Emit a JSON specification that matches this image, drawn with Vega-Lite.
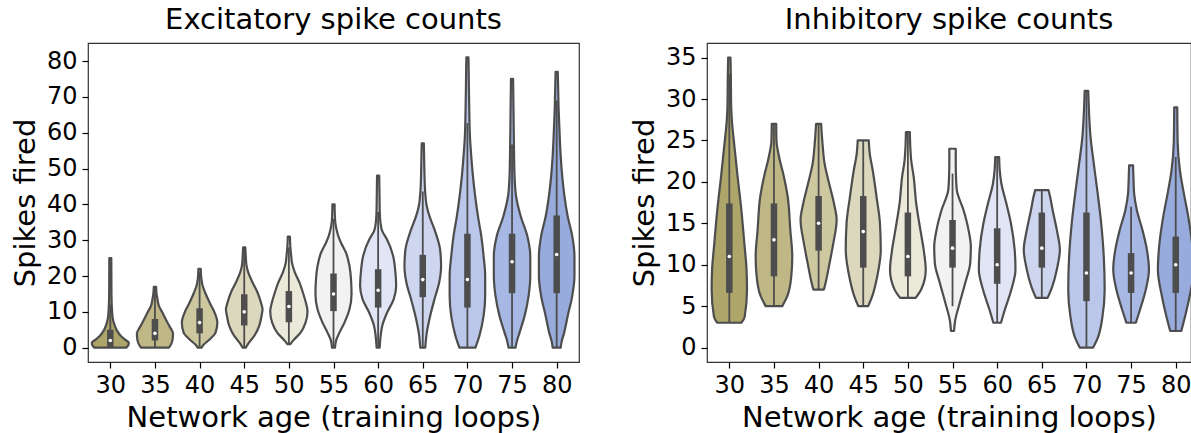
{
"$schema": "https://vega.github.io/schema/vega-lite/v6.json",
"padding": {"left": 10, "top": 5, "right": 0, "bottom": 0},
"background": "white",
"bounds": "flush",
"spacing": 128,
"config": {
  "font": "DejaVu Sans",
  "view": {"stroke": "#333333", "strokeWidth": 1.2},
  "axis": {"labelFont": "DejaVu Sans", "labelFontSize": 24, "labelColor": "#000000", "labelOverlap": false, "titleFont": "DejaVu Sans", "titleFontSize": 29, "titleFontWeight": "normal", "titleColor": "#000000", "tickColor": "#000000", "tickSize": 6, "tickWidth": 1.2, "grid": false, "domain": false, "labelPadding": 5, "titlePadding": 6},
  "title": {"font": "DejaVu Sans", "fontSize": 29, "fontWeight": "normal", "color": "#000000", "offset": 8}
},
"datasets": {
"exV": [
{"age":30,"s":0,"w":1.79},{"age":30,"s":0.7,"w":2.02},{"age":30,"s":1.4,"w":2.07},{"age":30,"s":2.2,"w":1.68},{"age":30,"s":3.2,"w":1.21},{"age":30,"s":4.6,"w":0.78},{"age":30,"s":6.5,"w":0.45},{"age":30,"s":8.4,"w":0.26},{"age":30,"s":11,"w":0.18},{"age":30,"s":15,"w":0.13},{"age":30,"s":25,"w":0.11},
{"age":35,"s":0,"w":1.57},{"age":35,"s":1.2,"w":1.85},{"age":35,"s":2.5,"w":1.99},{"age":35,"s":4,"w":2.02},{"age":35,"s":5.5,"w":1.74},{"age":35,"s":7,"w":1.4},{"age":35,"s":8.4,"w":1.12},{"age":35,"s":9.8,"w":0.84},{"age":35,"s":11.6,"w":0.45},{"age":35,"s":13.5,"w":0.28},{"age":35,"s":15,"w":0.18},{"age":35,"s":17,"w":0.13},
{"age":40,"s":0,"w":0.22},{"age":40,"s":0.5,"w":0.34},{"age":40,"s":2.3,"w":1.12},{"age":40,"s":4.2,"w":1.79},{"age":40,"s":7,"w":1.99},{"age":40,"s":9.8,"w":1.68},{"age":40,"s":12.6,"w":1.12},{"age":40,"s":15.4,"w":0.62},{"age":40,"s":17.3,"w":0.34},{"age":40,"s":19.2,"w":0.2},{"age":40,"s":22,"w":0.13},
{"age":45,"s":0,"w":0.17},{"age":45,"s":1.4,"w":0.53},{"age":45,"s":3.3,"w":1.12},{"age":45,"s":6.1,"w":1.68},{"age":45,"s":8.9,"w":1.94},{"age":45,"s":10.7,"w":2.05},{"age":45,"s":12.6,"w":1.87},{"age":45,"s":15.4,"w":1.49},{"age":45,"s":18.2,"w":0.93},{"age":45,"s":21,"w":0.45},{"age":45,"s":22.9,"w":0.26},{"age":45,"s":25.7,"w":0.17},{"age":45,"s":28,"w":0.12},
{"age":50,"s":1,"w":0.17},{"age":50,"s":1.9,"w":0.45},{"age":50,"s":4.2,"w":1.31},{"age":50,"s":7,"w":1.87},{"age":50,"s":10.2,"w":2.09},{"age":50,"s":12.6,"w":1.9},{"age":50,"s":15.4,"w":1.57},{"age":50,"s":18.2,"w":1.18},{"age":50,"s":21,"w":0.67},{"age":50,"s":23.8,"w":0.34},{"age":50,"s":25.7,"w":0.26},{"age":50,"s":28,"w":0.17},{"age":50,"s":31,"w":0.12},
{"age":55,"s":0,"w":0.17},{"age":55,"s":1.9,"w":0.28},{"age":55,"s":4.2,"w":0.67},{"age":55,"s":7,"w":1.23},{"age":55,"s":10.7,"w":1.79},{"age":55,"s":14.9,"w":2.02},{"age":55,"s":19.1,"w":1.96},{"age":55,"s":22.8,"w":1.79},{"age":55,"s":26.5,"w":1.4},{"age":55,"s":29.3,"w":0.84},{"age":55,"s":31,"w":0.56},{"age":55,"s":33,"w":0.34},{"age":55,"s":35,"w":0.2},{"age":55,"s":37,"w":0.15},{"age":55,"s":40,"w":0.12},
{"age":60,"s":0,"w":0.17},{"age":60,"s":3.3,"w":0.28},{"age":60,"s":6,"w":0.45},{"age":60,"s":9.8,"w":1.01},{"age":60,"s":13.5,"w":1.74},{"age":60,"s":17.2,"w":2.02},{"age":60,"s":21.9,"w":1.9},{"age":60,"s":25.6,"w":1.68},{"age":60,"s":30.3,"w":0.97},{"age":60,"s":32.6,"w":0.45},{"age":60,"s":34.9,"w":0.26},{"age":60,"s":38,"w":0.18},{"age":60,"s":43,"w":0.15},{"age":60,"s":48,"w":0.12},
{"age":65,"s":0,"w":0.28},{"age":65,"s":4.2,"w":0.45},{"age":65,"s":8.8,"w":0.82},{"age":65,"s":13.5,"w":1.31},{"age":65,"s":18.1,"w":1.83},{"age":65,"s":22.8,"w":2.05},{"age":65,"s":27.4,"w":1.94},{"age":65,"s":33,"w":1.31},{"age":65,"s":36.7,"w":0.75},{"age":65,"s":39.5,"w":0.45},{"age":65,"s":44.2,"w":0.25},{"age":65,"s":50.7,"w":0.17},{"age":65,"s":57,"w":0.12},
{"age":70,"s":0,"w":0.9},{"age":70,"s":3.3,"w":1.34},{"age":70,"s":8.8,"w":1.81},{"age":70,"s":14.4,"w":1.99},{"age":70,"s":20,"w":1.99},{"age":70,"s":25.6,"w":1.81},{"age":70,"s":31.2,"w":1.55},{"age":70,"s":36.7,"w":1.18},{"age":70,"s":42.3,"w":0.87},{"age":70,"s":47.9,"w":0.62},{"age":70,"s":53.5,"w":0.43},{"age":70,"s":59.1,"w":0.28},{"age":70,"s":64.6,"w":0.22},{"age":70,"s":72,"w":0.17},{"age":70,"s":81,"w":0.12},
{"age":75,"s":0,"w":0.39},{"age":75,"s":1.4,"w":0.5},{"age":75,"s":4.2,"w":0.84},{"age":75,"s":8.8,"w":1.4},{"age":75,"s":14.4,"w":1.85},{"age":75,"s":20,"w":2.04},{"age":75,"s":25.6,"w":2.04},{"age":75,"s":31.2,"w":1.71},{"age":75,"s":36.7,"w":0.97},{"age":75,"s":42.3,"w":0.45},{"age":75,"s":47.9,"w":0.28},{"age":75,"s":55,"w":0.22},{"age":75,"s":65,"w":0.17},{"age":75,"s":75,"w":0.12},
{"age":80,"s":0,"w":0.45},{"age":80,"s":1.4,"w":0.53},{"age":80,"s":4.2,"w":0.84},{"age":80,"s":8.8,"w":1.23},{"age":80,"s":14.4,"w":1.74},{"age":80,"s":20,"w":1.99},{"age":80,"s":25.6,"w":1.99},{"age":80,"s":31.2,"w":1.74},{"age":80,"s":36.7,"w":1.23},{"age":80,"s":42.3,"w":0.87},{"age":80,"s":47.9,"w":0.62},{"age":80,"s":53.5,"w":0.45},{"age":80,"s":59.1,"w":0.34},{"age":80,"s":62.8,"w":0.28},{"age":80,"s":66.5,"w":0.22},{"age":80,"s":72,"w":0.17},{"age":80,"s":77,"w":0.12}
],
"exB": [
{"age":30,"q1":0,"q3":5,"med":2,"wlo":0,"whi":12},
{"age":35,"q1":2,"q3":8,"med":4,"wlo":0,"whi":17},
{"age":40,"q1":4,"q3":11,"med":7,"wlo":0,"whi":21},
{"age":45,"q1":6.2,"q3":14.9,"med":10,"wlo":0,"whi":28},
{"age":50,"q1":7.1,"q3":15.8,"med":11.5,"wlo":1,"whi":28},
{"age":55,"q1":10.2,"q3":20.7,"med":15,"wlo":0,"whi":36},
{"age":60,"q1":11.2,"q3":21.9,"med":16,"wlo":0,"whi":37.9},
{"age":65,"q1":14.1,"q3":25.9,"med":19,"wlo":0,"whi":43.6},
{"age":70,"q1":11.2,"q3":31.8,"med":19,"wlo":0,"whi":62.7},
{"age":75,"q1":15.2,"q3":31.8,"med":24,"wlo":0,"whi":56.7},
{"age":80,"q1":15.2,"q3":36.9,"med":26,"wlo":0,"whi":69}
],
"inV": [
{"age":30,"s":3,"w":1.35},{"age":30,"s":3.7,"w":1.72},{"age":30,"s":7,"w":1.98},{"age":30,"s":9.4,"w":1.93},{"age":30,"s":12.6,"w":1.68},{"age":30,"s":16.6,"w":1.35},{"age":30,"s":20.6,"w":0.93},{"age":30,"s":24.7,"w":0.53},{"age":30,"s":27.5,"w":0.28},{"age":30,"s":29.5,"w":0.2},{"age":30,"s":32.8,"w":0.17},{"age":30,"s":35,"w":0.13},
{"age":35,"s":5,"w":0.93},{"age":35,"s":6.2,"w":1.49},{"age":35,"s":8.6,"w":1.94},{"age":35,"s":11,"w":2.05},{"age":35,"s":14.2,"w":1.83},{"age":35,"s":18.2,"w":1.54},{"age":35,"s":20.6,"w":1.12},{"age":35,"s":23.1,"w":0.56},{"age":35,"s":25,"w":0.28},{"age":35,"s":27,"w":0.25},
{"age":40,"s":7,"w":0.59},{"age":40,"s":7.8,"w":0.78},{"age":40,"s":10.2,"w":1.23},{"age":40,"s":12.6,"w":1.65},{"age":40,"s":15.4,"w":2.02},{"age":40,"s":17.4,"w":1.72},{"age":40,"s":19.8,"w":1.18},{"age":40,"s":22.2,"w":0.67},{"age":40,"s":24.7,"w":0.43},{"age":40,"s":27,"w":0.28},
{"age":45,"s":5,"w":0.56},{"age":45,"s":6.2,"w":1.01},{"age":45,"s":8.6,"w":1.57},{"age":45,"s":11.8,"w":1.96},{"age":45,"s":15,"w":1.87},{"age":45,"s":18.2,"w":1.49},{"age":45,"s":21.4,"w":1.06},{"age":45,"s":23.4,"w":0.73},{"age":45,"s":25,"w":0.62},
{"age":50,"s":6,"w":0.87},{"age":50,"s":7,"w":1.49},{"age":50,"s":9.4,"w":2.0},{"age":50,"s":11.8,"w":1.77},{"age":50,"s":14.2,"w":1.4},{"age":50,"s":17.4,"w":0.93},{"age":50,"s":20.6,"w":0.65},{"age":50,"s":22.6,"w":0.37},{"age":50,"s":24,"w":0.28},{"age":50,"s":26,"w":0.22},
{"age":55,"s":2,"w":0.17},{"age":55,"s":3.3,"w":0.3},{"age":55,"s":5.3,"w":0.78},{"age":55,"s":7.8,"w":1.42},{"age":55,"s":10.2,"w":1.98},{"age":55,"s":12.2,"w":2.05},{"age":55,"s":14.2,"w":1.79},{"age":55,"s":16.6,"w":1.23},{"age":55,"s":19,"w":0.48},{"age":55,"s":20.6,"w":0.39},{"age":55,"s":22,"w":0.36},{"age":55,"s":24,"w":0.36},
{"age":60,"s":3,"w":0.43},{"age":60,"s":4.5,"w":0.84},{"age":60,"s":7,"w":1.59},{"age":60,"s":9.4,"w":2.05},{"age":60,"s":11.8,"w":1.96},{"age":60,"s":15,"w":1.54},{"age":60,"s":17.4,"w":1.03},{"age":60,"s":19.8,"w":0.47},{"age":60,"s":21.5,"w":0.28},{"age":60,"s":23,"w":0.22},
{"age":65,"s":6,"w":0.65},{"age":65,"s":7.4,"w":1.18},{"age":65,"s":9.4,"w":1.68},{"age":65,"s":11.8,"w":2.02},{"age":65,"s":14.2,"w":1.68},{"age":65,"s":16.6,"w":1.21},{"age":65,"s":18.2,"w":0.93},{"age":65,"s":19,"w":0.75},
{"age":70,"s":0,"w":0.75},{"age":70,"s":1.3,"w":1.31},{"age":70,"s":3.7,"w":1.79},{"age":70,"s":7,"w":2.04},{"age":70,"s":11,"w":1.94},{"age":70,"s":15,"w":1.65},{"age":70,"s":19,"w":1.21},{"age":70,"s":22.2,"w":0.82},{"age":70,"s":25.5,"w":0.45},{"age":70,"s":27.9,"w":0.31},{"age":70,"s":31,"w":0.2},
{"age":75,"s":3,"w":0.53},{"age":75,"s":4.5,"w":0.98},{"age":75,"s":7,"w":1.65},{"age":75,"s":9.4,"w":2.0},{"age":75,"s":11.8,"w":1.77},{"age":75,"s":14.2,"w":1.27},{"age":75,"s":16.6,"w":0.64},{"age":75,"s":18.6,"w":0.34},{"age":75,"s":20,"w":0.28},{"age":75,"s":22,"w":0.22},
{"age":80,"s":2,"w":0.62},{"age":80,"s":3.7,"w":1.03},{"age":80,"s":6.2,"w":1.55},{"age":80,"s":9.4,"w":2.0},{"age":80,"s":12.6,"w":1.82},{"age":80,"s":15.8,"w":1.4},{"age":80,"s":19,"w":0.84},{"age":80,"s":21.4,"w":0.47},{"age":80,"s":24.7,"w":0.22},{"age":80,"s":29,"w":0.17}
],
"inB": [
{"age":30,"q1":6.6,"q3":17.4,"med":11,"wlo":3,"whi":33},
{"age":35,"q1":8.6,"q3":17.4,"med":13,"wlo":5,"whi":27},
{"age":40,"q1":11.7,"q3":18.3,"med":15,"wlo":7,"whi":27},
{"age":45,"q1":9.65,"q3":18.3,"med":14,"wlo":5,"whi":25},
{"age":50,"q1":8.6,"q3":16.3,"med":11,"wlo":6,"whi":26},
{"age":55,"q1":9.65,"q3":15.4,"med":12,"wlo":5,"whi":21},
{"age":60,"q1":7.7,"q3":14.4,"med":10,"wlo":3,"whi":23},
{"age":65,"q1":9.65,"q3":16.3,"med":12,"wlo":6,"whi":19},
{"age":70,"q1":5.6,"q3":16.3,"med":9,"wlo":0,"whi":31},
{"age":75,"q1":6.6,"q3":11.4,"med":9,"wlo":3,"whi":17},
{"age":80,"q1":6.6,"q3":13.4,"med":10,"wlo":2,"whi":23}
]
},
"hconcat": [
{
  "width": 491, "height": 319,
  "title": {"text": "Excitatory spike counts"},
  "layer": [
    {"data": {"name": "exV"},
     "transform": [{"calculate": "datum.age - datum.w", "as": "lo"}, {"calculate": "datum.age + datum.w", "as": "hi"}],
     "mark": {"type": "area", "orient": "horizontal", "interpolate": "monotone", "stroke": "#4d4d4d", "strokeWidth": 2.2, "strokeJoin": "round", "fillOpacity": 1},
     "encoding": {
       "y": {"field": "s", "type": "quantitative", "scale": {"domain": [-4.0, 85.04], "nice": false, "zero": false}, "axis": {"values": [0,10,20,30,40,50,60,70,80], "title": "Spikes fired"}},
       "x": {"field": "lo", "type": "quantitative", "scale": {"domain": [27.5, 82.5], "nice": false, "zero": false}, "axis": {"values": [30,35,40,45,50,55,60,65,70,75,80], "title": "Network age (training loops)"}},
       "x2": {"field": "hi"},
       "color": {"field": "age", "type": "nominal", "scale": {"domain": [30,35,40,45,50,55,60,65,70,75,80], "range": ["#ada56a","#bfb886","#cdc8a0","#dcd8bd","#ebe9d9","#f2f2f2","#e1e5f5","#cdd5ef","#bac7eb","#a7b8e5","#97abdd"]}, "legend": null},
       "detail": {"field": "age", "type": "nominal"}
     }},
    {"data": {"name": "exB"},
     "mark": {"type": "rule", "color": "#4d4d4d", "strokeWidth": 1.8},
     "encoding": {"x": {"field": "age", "type": "quantitative", "axis": {"values": [30,35,40,45,50,55,60,65,70,75,80], "title": "Network age (training loops)"}}, "y": {"field": "wlo", "type": "quantitative", "axis": {"values": [0,10,20,30,40,50,60,70,80], "title": "Spikes fired"}}, "y2": {"field": "whi"}}},
    {"data": {"name": "exB"},
     "mark": {"type": "rule", "color": "#4d4d4d", "strokeWidth": 6.5},
     "encoding": {"x": {"field": "age", "type": "quantitative", "axis": {"values": [30,35,40,45,50,55,60,65,70,75,80], "title": "Network age (training loops)"}}, "y": {"field": "q1", "type": "quantitative", "axis": {"values": [0,10,20,30,40,50,60,70,80], "title": "Spikes fired"}}, "y2": {"field": "q3"}}},
    {"data": {"name": "exB"},
     "mark": {"type": "point", "filled": true, "color": "#ffffff", "size": 13, "opacity": 1},
     "encoding": {"x": {"field": "age", "type": "quantitative", "axis": {"values": [30,35,40,45,50,55,60,65,70,75,80], "title": "Network age (training loops)"}}, "y": {"field": "med", "type": "quantitative", "axis": {"values": [0,10,20,30,40,50,60,70,80], "title": "Spikes fired"}}}}
  ]
},
{
  "width": 484, "height": 319,
  "title": {"text": "Inhibitory spike counts"},
  "layer": [
    {"data": {"name": "inV"},
     "transform": [{"calculate": "datum.age - datum.w", "as": "lo"}, {"calculate": "datum.age + datum.w", "as": "hi"}],
     "mark": {"type": "area", "orient": "horizontal", "interpolate": "monotone", "stroke": "#4d4d4d", "strokeWidth": 2.2, "strokeJoin": "round", "fillOpacity": 1},
     "encoding": {
       "y": {"field": "s", "type": "quantitative", "scale": {"domain": [-1.74, 36.76], "nice": false, "zero": false}, "axis": {"values": [0,5,10,15,20,25,30,35], "title": "Spikes fired"}},
       "x": {"field": "lo", "type": "quantitative", "scale": {"domain": [27.5, 81.71], "nice": false, "zero": false}, "axis": {"values": [30,35,40,45,50,55,60,65,70,75,80], "title": "Network age (training loops)"}},
       "x2": {"field": "hi"},
       "color": {"field": "age", "type": "nominal", "scale": {"domain": [30,35,40,45,50,55,60,65,70,75,80], "range": ["#ada56a","#bfb886","#cdc8a0","#dcd8bd","#ebe9d9","#f2f2f2","#e1e5f5","#cdd5ef","#bac7eb","#a7b8e5","#97abdd"]}, "legend": null},
       "detail": {"field": "age", "type": "nominal"}
     }},
    {"data": {"name": "inB"},
     "mark": {"type": "rule", "color": "#4d4d4d", "strokeWidth": 1.8},
     "encoding": {"x": {"field": "age", "type": "quantitative", "axis": {"values": [30,35,40,45,50,55,60,65,70,75,80], "title": "Network age (training loops)"}}, "y": {"field": "wlo", "type": "quantitative", "axis": {"values": [0,5,10,15,20,25,30,35], "title": "Spikes fired"}}, "y2": {"field": "whi"}}},
    {"data": {"name": "inB"},
     "mark": {"type": "rule", "color": "#4d4d4d", "strokeWidth": 6.5},
     "encoding": {"x": {"field": "age", "type": "quantitative", "axis": {"values": [30,35,40,45,50,55,60,65,70,75,80], "title": "Network age (training loops)"}}, "y": {"field": "q1", "type": "quantitative", "axis": {"values": [0,5,10,15,20,25,30,35], "title": "Spikes fired"}}, "y2": {"field": "q3"}}},
    {"data": {"name": "inB"},
     "mark": {"type": "point", "filled": true, "color": "#ffffff", "size": 13, "opacity": 1},
     "encoding": {"x": {"field": "age", "type": "quantitative", "axis": {"values": [30,35,40,45,50,55,60,65,70,75,80], "title": "Network age (training loops)"}}, "y": {"field": "med", "type": "quantitative", "axis": {"values": [0,5,10,15,20,25,30,35], "title": "Spikes fired"}}}}
  ]
}
]
}
